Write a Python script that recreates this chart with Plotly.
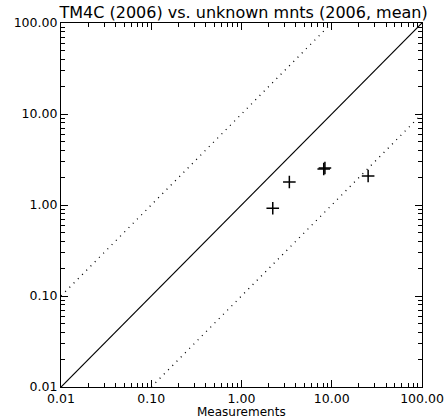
import plotly.graph_objects as go

title = "TM4C (2006) vs. unknown mnts (2006, mean)"
x_label = "Measurements"
tick_vals = [0.01, 0.1, 1, 10, 100]
tick_text = ["0.01", "0.10", "1.00", "10.00", "100.00"]
minor_vals = [m * d for d in [0.01, 0.1, 1, 10] for m in range(2, 10)]

meas = [2.22, 3.39, 8.15, 8.40, 25.3]
model = [0.92, 1.79, 2.49, 2.55, 2.08]

one_x = [0.01, 100]
one_y = [0.01, 100]
up_x = [0.01, 10]
up_y = [0.1, 100]
lo_x = [0.1, 100]
lo_y = [0.01, 10]

FONT = "DejaVu Sans"

fig = go.Figure()
fig.add_trace(go.Scatter(x=one_x, y=one_y, mode="lines",
                         line=dict(color="black", width=1.2), showlegend=False))
fig.add_trace(go.Scatter(x=up_x, y=up_y, mode="lines",
                         line=dict(color="black", width=1.3, dash="1px,5px"), showlegend=False))
fig.add_trace(go.Scatter(x=lo_x, y=lo_y, mode="lines",
                         line=dict(color="black", width=1.3, dash="1px,5px"), showlegend=False))
fig.add_trace(go.Scatter(x=meas, y=model, mode="markers",
                         marker=dict(symbol="cross-thin", size=9,
                                     line=dict(color="black", width=1.5)),
                         showlegend=False))

axis_common = dict(
    type="log", range=[-2, 2], showgrid=False, zeroline=False, automargin=False,
    showline=True, linecolor="black", linewidth=1.2, mirror="ticks",
    ticks="inside", ticklen=7, tickwidth=1, tickcolor="black",
    tickmode="array", tickvals=tick_vals, ticktext=tick_text,
    tickfont=dict(family=FONT, size=12.5, color="black"),
    minor=dict(ticks="inside", ticklen=4, tickwidth=1, tickcolor="black",
               tickmode="array", tickvals=minor_vals, showgrid=False),
)

fig.update_layout(
    width=447, height=419,
    margin=dict(l=61, r=25, t=23, b=32),
    paper_bgcolor="white", plot_bgcolor="white",
    title=dict(text=title, x=0.545, xanchor="center", y=1 - 12.5 / 419, yanchor="middle",
               font=dict(family=FONT, size=16, color="black")),
    xaxis=dict(**axis_common),
    yaxis=dict(**axis_common),
    annotations=[dict(text=x_label, xref="paper", yref="paper", x=0.5, y=-24.5 / 364,
                      xanchor="center", yanchor="middle", showarrow=False,
                      font=dict(family=FONT, size=12, color="black"))],
)

fig.write_html("out.html")
